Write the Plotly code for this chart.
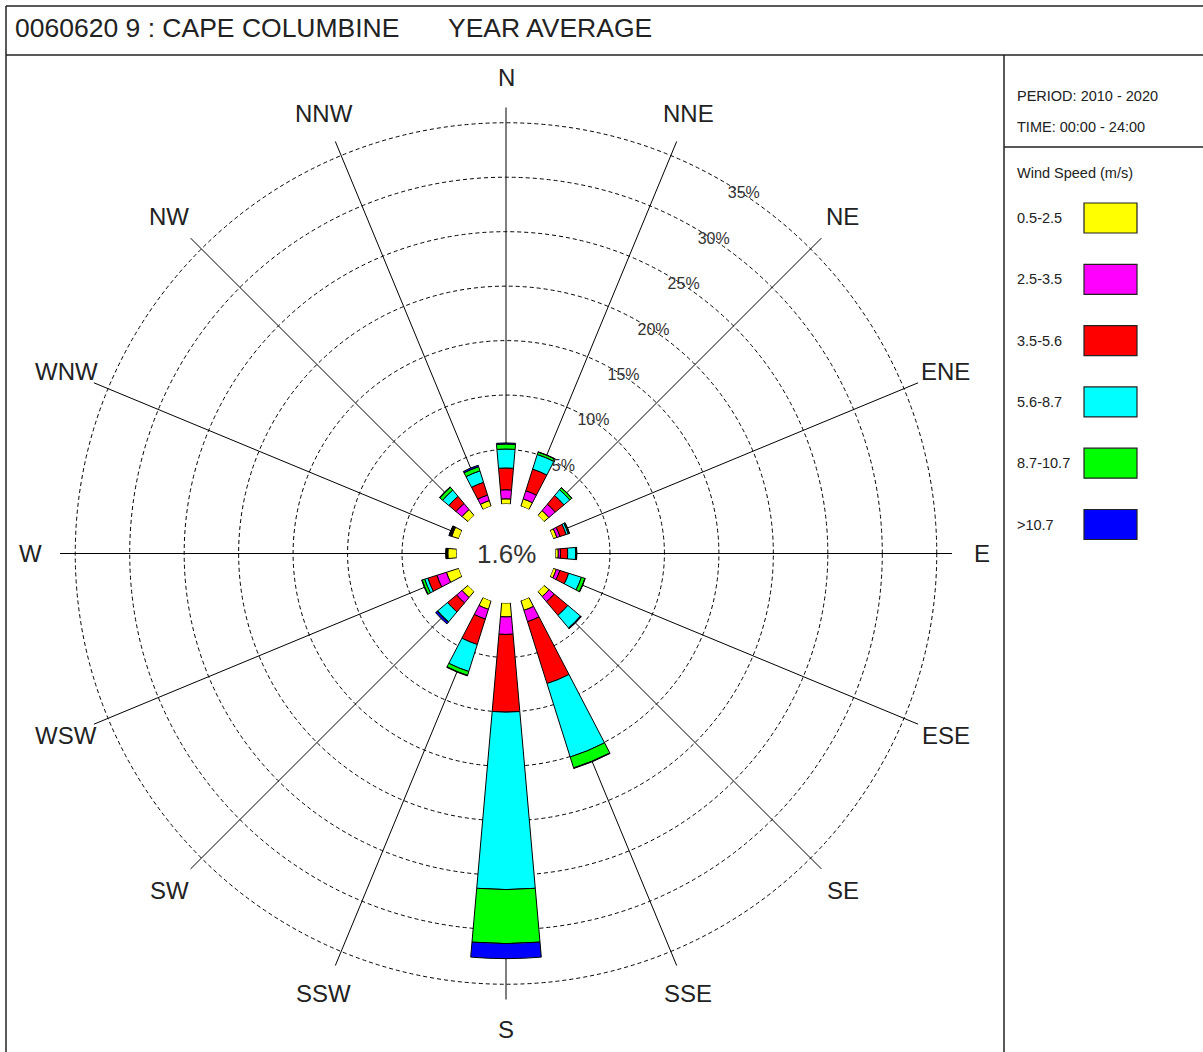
import plotly.graph_objects as go

# ---- data -------------------------------------------------------------
directions = ["N", "NNE", "NE", "ENE", "E", "ESE", "SE", "SSE",
              "S", "SSW", "SW", "WSW", "W", "WNW", "NW", "NNW"]
bearings = [0.0, 22.5, 45.0, 67.5, 90.0, 112.5, 135.0, 157.5,
            180.0, 202.5, 225.0, 247.5, 270.0, 292.5, 315.0, 337.5]

speed_bins = ["0.5-2.5", "2.5-3.5", "3.5-5.6", "5.6-8.7", "8.7-10.7", ">10.7"]
bin_colors = ["#FFFF00", "#FF00FF", "#FF0000", "#00FFFF", "#00FF00", "#0000FF"]

# frequency (%) per direction for each wind-speed class
freq_05_25 = [0.48, 0.71, 0.60, 0.35, 0.26, 0.30, 0.62, 0.93,
              1.28, 0.83, 0.73, 1.19, 0.80, 0.68, 0.73, 0.55]
freq_25_35 = [0.83, 0.79, 0.77, 0.30, 0.20, 0.34, 0.62, 1.09,
              1.61, 0.94, 0.65, 0.92, 0.05, 0.06, 0.72, 0.53]
freq_35_56 = [2.00, 2.08, 1.03, 0.60, 0.66, 0.85, 1.63, 5.96,
              7.13, 2.45, 1.08, 0.87, 0.05, 0.08, 0.86, 1.23]
freq_56_87 = [1.74, 1.41, 0.70, 0.20, 0.73, 1.22, 1.51, 7.07,
              16.29, 2.60, 1.19, 0.30, 0.03, 0.05, 0.75, 1.10]
freq_87_107 = [0.46, 0.23, 0.24, 0.10, 0.09, 0.34, 0.05, 1.05,
               4.96, 0.37, 0.05, 0.25, 0.03, 0.05, 0.33, 0.40]
freq_gt_107 = [0.10, 0.03, 0.02, 0.02, 0.02, 0.03, 0.05, 0.05,
               1.38, 0.05, 0.20, 0.05, 0.02, 0.03, 0.05, 0.14]
freq_series = [freq_05_25, freq_25_35, freq_35_56, freq_56_87, freq_87_107, freq_gt_107]

calm_pct = 1.6
ring_values = [5, 10, 15, 20, 25, 30, 35]
ring_labels = ["5%", "10%", "15%", "20%", "25%", "30%", "35%"]

station_title = "0060620 9 : CAPE COLUMBINE"
period_title = "YEAR AVERAGE"
period_text = "PERIOD: 2010 - 2020"
time_text = "TIME: 00:00 - 24:00"
legend_title = "Wind Speed (m/s)"

# ---- geometry (pixels) --------------------------------------------------
W, H = 1203, 1052
CX, CY = 506.0, 553.5          # rose centre
R_OUT = 446.0                  # end of the spokes
R_HOLE = 49.5                  # calm circle
RMAX = 36.4                    # radial value at R_OUT
R_LABEL = 476.0                # compass label radius
FONT = "Liberation Sans, Arial, sans-serif"
INK = "#222222"


def px(x):
    return x / W


def py(y):
    return 1 - y / H


fig = go.Figure()

for name, color, vals in zip(speed_bins, bin_colors, freq_series):
    fig.add_trace(go.Barpolar(
        r=vals, theta=bearings, width=10, name=name,
        marker=dict(color=color, line=dict(color="black", width=1)),
        showlegend=False, hoverinfo="skip",
    ))

# ring percentage labels
fig.add_trace(go.Scatterpolar(
    r=ring_values, theta=[33.5] * len(ring_values), mode="text",
    text=ring_labels, textfont=dict(family=FONT, size=16, color="#333333"),
    showlegend=False, hoverinfo="skip",
))

annotations = []
shapes = []

# header
annotations.append(dict(x=px(13), y=py(28), text=station_title, showarrow=False,
                        xanchor="left", yanchor="middle",
                        font=dict(family=FONT, size=26.5, color=INK)))
annotations.append(dict(x=px(446), y=py(28), text=period_title, showarrow=False,
                        xanchor="left", yanchor="middle",
                        font=dict(family=FONT, size=26.5, color=INK)))

# calm value in the centre
annotations.append(dict(x=px(CX), y=py(CY), text=f"{calm_pct}%", showarrow=False,
                        xanchor="center", yanchor="middle",
                        font=dict(family=FONT, size=26, color="#333333")))

# compass labels
import math
for lab, b in zip(directions, bearings):
    a = math.radians(b)
    x = CX + R_LABEL * math.sin(a)
    y = CY - R_LABEL * math.cos(a)
    annotations.append(dict(x=px(x), y=py(y), text=lab, showarrow=False,
                            xanchor="center", yanchor="middle",
                            font=dict(family=FONT, size=24, color=INK)))

# side panel text
for txt, yy in [(period_text, 96), (time_text, 127), (legend_title, 173)]:
    annotations.append(dict(x=px(1015), y=py(yy), text=txt, showarrow=False,
                            xanchor="left", yanchor="middle",
                            font=dict(family=FONT, size=14.5, color=INK)))

# legend swatches
for k, (name, color) in enumerate(zip(speed_bins, bin_colors)):
    top = 203 + k * 61.3
    shapes.append(dict(type="rect", xref="paper", yref="paper",
                       x0=px(1084), x1=px(1137), y0=py(top + 30), y1=py(top),
                       fillcolor=color, line=dict(color="#222222", width=1.2)))
    annotations.append(dict(x=px(1015), y=py(top + 15), text=name, showarrow=False,
                            xanchor="left", yanchor="middle",
                            font=dict(family=FONT, size=14.5, color=INK)))

# frame lines
frame = [
    (6, 6, 6, H),          # left border
    (6, 6, W, 6),          # top border
    (6, 55, W, 55),        # header separator
    (1004, 55, 1004, H),   # side panel divider
    (1004, 147, W, 147),   # side panel separator
]
for x0, y0, x1, y1 in frame:
    shapes.append(dict(type="line", xref="paper", yref="paper",
                       x0=px(x0), y0=py(y0), x1=px(x1), y1=py(y1),
                       line=dict(color="#222222", width=1.5)))

fig.update_layout(
    width=W, height=H,
    margin=dict(l=0, r=0, t=0, b=0),
    paper_bgcolor="white",
    showlegend=False,
    annotations=annotations,
    shapes=shapes,
    polar=dict(
        domain=dict(x=[px(CX - R_OUT), px(CX + R_OUT)],
                    y=[py(CY + R_OUT), py(CY - R_OUT)]),
        hole=R_HOLE / R_OUT,
        bgcolor="white",
        barmode="stack",
        bargap=0,
        radialaxis=dict(range=[0, RMAX], tickmode="array", tickvals=ring_values,
                        showticklabels=False, ticks="", showline=False,
                        gridcolor="black", gridwidth=1, griddash="4px,3px"),
        angularaxis=dict(rotation=90, direction="clockwise", thetaunit="degrees",
                         tickmode="linear", tick0=0, dtick=22.5,
                         showticklabels=False, ticks="", showline=False,
                         gridcolor="black", gridwidth=1),
    ),
)

fig.write_html("out.html", config={"displayModeBar": False})
